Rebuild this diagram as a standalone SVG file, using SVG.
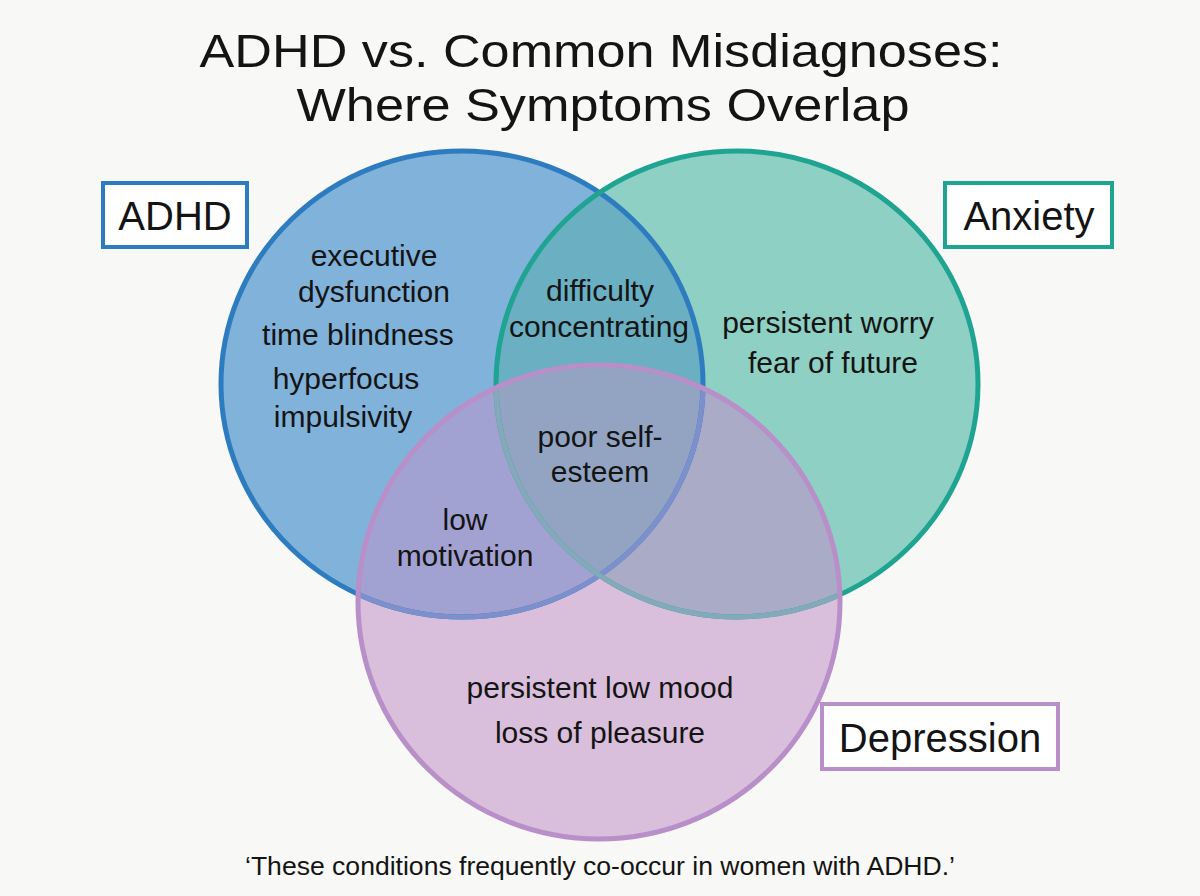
<svg xmlns="http://www.w3.org/2000/svg" width="1200" height="896" viewBox="0 0 1200 896">
  <defs>
    <clipPath id="cA"><ellipse cx="462" cy="384" rx="241" ry="233"/></clipPath>
    <clipPath id="cT"><ellipse cx="737" cy="384" rx="241" ry="233"/></clipPath>
    <clipPath id="cP"><ellipse cx="599" cy="602" rx="241" ry="237"/></clipPath>
    <style>
      .t { font-family: "Liberation Sans", Arial, sans-serif; fill: #141414; text-anchor: middle; }
      .body { font-size: 30px; }
      .lbl { font-size: 40px; }
      .title { font-size: 47px; }
      .foot { font-size: 26px; }
      .box { fill: #ffffff; stroke-width: 4; }
    </style>
  </defs>
  <rect x="0" y="0" width="1200" height="896" fill="#f8f8f6"/>

  <g id="fills">
    <ellipse cx="462" cy="384" rx="241" ry="233" fill="#80b2da"/>
    <ellipse cx="737" cy="384" rx="241" ry="233" fill="#8ed0c3"/>
    <ellipse cx="737" cy="384" rx="241" ry="233" fill="#6aafc2" clip-path="url(#cA)"/>
    <ellipse cx="599" cy="602" rx="241" ry="237" fill="#d9bfdc"/>
    <ellipse cx="599" cy="602" rx="241" ry="237" fill="#a2a2d2" clip-path="url(#cA)"/>
    <ellipse cx="599" cy="602" rx="241" ry="237" fill="#a9abc7" clip-path="url(#cT)"/>
    <g clip-path="url(#cA)">
      <ellipse cx="599" cy="602" rx="241" ry="237" fill="#92a4c2" clip-path="url(#cT)"/>
    </g>
  </g>

  <g id="outlines" fill="none" stroke-width="5">
    <ellipse id="adhd-circle" cx="462" cy="384" rx="241" ry="233" stroke="#2d7cc0"/>
    <ellipse cx="462" cy="384" rx="241" ry="233" stroke="#7d90cb" clip-path="url(#cP)"/>
    <ellipse id="anxiety-circle" cx="737" cy="384" rx="241" ry="233" stroke="#20a492"/>
    <ellipse cx="737" cy="384" rx="241" ry="233" stroke="#84a9ba" clip-path="url(#cP)"/>
    <ellipse id="depression-circle" cx="599" cy="602" rx="241" ry="237" stroke="#b88fc8"/>
  </g>

  <g id="title">
    <text class="t title" x="601" y="67" textLength="803" lengthAdjust="spacingAndGlyphs">ADHD vs. Common Misdiagnoses:</text>
    <text class="t title" x="603" y="121" textLength="613" lengthAdjust="spacingAndGlyphs">Where Symptoms Overlap</text>
  </g>

  <g id="label-adhd">
    <rect class="box" x="103" y="183" width="144" height="64" stroke="#2d7cc0"/>
    <text class="t lbl" x="175" y="230">ADHD</text>
  </g>
  <g id="label-anxiety">
    <rect class="box" x="945" y="183" width="167" height="64" stroke="#20a492"/>
    <text class="t lbl" x="1029" y="230">Anxiety</text>
  </g>
  <g id="label-depression">
    <rect class="box" x="822" y="704" width="236" height="65" stroke="#b88fc8"/>
    <text class="t lbl" x="940" y="752">Depression</text>
  </g>

  <g id="adhd-only">
    <text class="t body" x="374" y="266">executive</text>
    <text class="t body" x="374" y="302">dysfunction</text>
    <text class="t body" x="358" y="345">time blindness</text>
    <text class="t body" x="346" y="389">hyperfocus</text>
    <text class="t body" x="343" y="427">impulsivity</text>
  </g>
  <g id="adhd-anxiety">
    <text class="t body" x="600" y="301">difficulty</text>
    <text class="t body" x="599" y="337">concentrating</text>
  </g>
  <g id="anxiety-only">
    <text class="t body" x="828" y="333">persistent worry</text>
    <text class="t body" x="833" y="373">fear of future</text>
  </g>
  <g id="all-three">
    <text class="t body" x="600" y="447">poor self-</text>
    <text class="t body" x="600" y="482">esteem</text>
  </g>
  <g id="adhd-depression">
    <text class="t body" x="465" y="530">low</text>
    <text class="t body" x="465" y="566">motivation</text>
  </g>
  <g id="depression-only">
    <text class="t body" x="600" y="698">persistent low mood</text>
    <text class="t body" x="600" y="743">loss of pleasure</text>
  </g>

  <g id="footer">
    <text class="t foot" x="600" y="875" textLength="710" lengthAdjust="spacingAndGlyphs">‘These conditions frequently co-occur in women with ADHD.’</text>
  </g>
</svg>
